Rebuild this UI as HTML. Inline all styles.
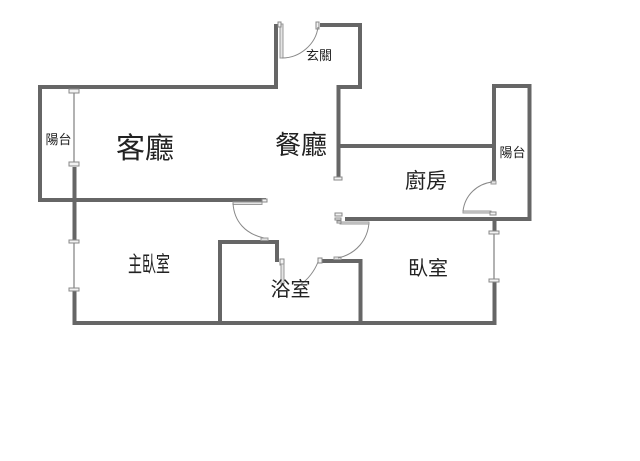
<!DOCTYPE html>
<html><head><meta charset="utf-8"><style>
html,body{margin:0;padding:0;background:#fff;width:640px;height:461px;overflow:hidden}
svg{display:block}
text{font-family:"Liberation Sans","Noto Sans CJK TC",sans-serif;fill:#222}
.w{fill:none;stroke:#666;stroke-width:4;stroke-linejoin:miter}
.win{fill:none;stroke:#999;stroke-width:1.5}
.h{fill:#f2f2f2;stroke:#888;stroke-width:1}
.leaf{fill:#e4e4e4;stroke:#999;stroke-width:1}
.arc{fill:none;stroke:#888;stroke-width:1}
</style></head><body>
<svg width="640" height="461" viewBox="0 0 640 461" xmlns="http://www.w3.org/2000/svg">
<rect width="640" height="461" fill="#fff"/>
<path class="w" d="M276 24V87H40V200H266"/>
<path class="w" d="M320 25H360V87H338.500V177"/>
<path class="w" d="M338 146H494"/>
<path class="w" d="M494 183V86H529.500V219H345"/>
<path class="w" d="M74.500 167V240"/>
<path class="w" d="M74.500 290V323H494.500V280"/>
<path class="w" d="M494.500 219V232"/>
<path class="w" d="M220 323V242H277V262"/>
<path class="w" d="M321 261H360.500V323"/>
<line class="win" x1="74" y1="92" x2="74" y2="165"/>
<line class="win" x1="74" y1="242" x2="74" y2="290"/>
<line class="win" x1="494" y1="232" x2="494" y2="280"/>
<rect class="h" x="69" y="89" width="10" height="4"/>
<rect class="h" x="69" y="162" width="10" height="4"/>
<rect class="h" x="69" y="240" width="10" height="3"/>
<rect class="h" x="69" y="288" width="10" height="3"/>
<rect class="h" x="489" y="231" width="10" height="3"/>
<rect class="h" x="489" y="279" width="10" height="3"/>
<rect class="h" x="334" y="177" width="8" height="3"/>
<rect class="leaf" x="280" y="24" width="3" height="34"/>
<rect class="h" x="278" y="22" width="3" height="5"/>
<rect class="h" x="316" y="22" width="3" height="7"/>
<path class="arc" d="M282 58C300 58 316 44 318 27"/>
<rect class="leaf" x="233" y="202" width="29" height="2.500"/>
<rect class="h" x="262" y="199" width="5" height="3"/>
<path class="arc" d="M233 203C234 222 246 234 264 238"/>
<rect class="leaf" x="261" y="238" width="7" height="2.500"/>
<rect class="h" x="280" y="259" width="4" height="6"/>
<rect class="leaf" x="281" y="264" width="3" height="20"/>
<rect class="h" x="318" y="258" width="4" height="5"/>
<path class="arc" d="M318 262C314 272 307 280 300 285"/>
<rect class="leaf" x="334" y="257" width="7" height="2.500"/>
<path class="arc" d="M369 222C368 240 356 254 338 258"/>
<rect class="leaf" x="340" y="222" width="29" height="2"/>
<rect class="h" x="335" y="213" width="7" height="3"/>
<rect class="h" x="335" y="218" width="6" height="2"/>
<rect class="h" x="337" y="221" width="4" height="2"/>
<rect class="leaf" x="463" y="211" width="28" height="2"/>
<rect class="h" x="490" y="212" width="6" height="3"/>
<rect class="leaf" x="491" y="181" width="5" height="3"/>
<path class="arc" d="M463 211C465 195 477 184 492 182"/>
<text x="145" y="158" font-size="29" text-anchor="middle">客廳</text>
<text x="301" y="154" font-size="26" text-anchor="middle">餐廳</text>
<text x="426" y="188" font-size="21" text-anchor="middle">廚房</text>
<text transform="translate(149 272) scale(1 1.600)" font-size="14" text-anchor="middle">主臥室</text>
<text x="428" y="275" font-size="20" text-anchor="middle">臥室</text>
<text x="290.500" y="296" font-size="20" text-anchor="middle">浴室</text>
<text x="58.500" y="144" font-size="13" text-anchor="middle" fill="#333">陽台</text>
<text x="512.500" y="157" font-size="13" text-anchor="middle" fill="#333">陽台</text>
<text x="319" y="60" font-size="13" text-anchor="middle" fill="#333">玄關</text>
</svg>
</body></html>
